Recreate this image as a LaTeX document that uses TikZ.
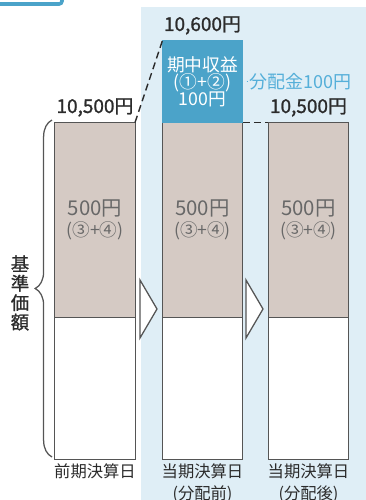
\documentclass[tikz,border=0pt]{standalone}
\usepackage{fontspec}
\setmainfont{Noto Sans CJK JP}
\newfontfamily\jpbold[FakeBold=1.2]{Noto Sans CJK JP}
\usetikzlibrary{positioning}
\usetikzlibrary{decorations.pathreplacing}
\definecolor{fundbg}{HTML}{DFEEF6}
\definecolor{gainblue}{HTML}{4BA3C9}
\definecolor{paidblue}{HTML}{55AFD9}
\definecolor{navbrown}{HTML}{D5CAC4}
\definecolor{colline}{HTML}{555555}
\definecolor{navtext}{HTML}{686868}
\definecolor{pricetext}{HTML}{2B2B2B}
\tikzset{
	navtop/.style={draw=colline, fill=navbrown, line width=0.7pt, minimum width=2cm, minimum height=4.875cm, outer sep=0pt, inner sep=0pt, align=center, text=navtext, font=\fontsize{14.5}{15}\selectfont},
	navbottom/.style={draw=colline, fill=white, line width=0.7pt, minimum width=2cm, minimum height=3.55cm, outer sep=0pt},
	gainbox/.style={draw=gainblue, fill=gainblue, minimum width=2cm, minimum height=2.05cm, outer sep=0pt, inner sep=0pt, align=center, text=white, font=\fontsize{12.6}{12.2}\selectfont},
	price/.style={inner sep=1pt, text=pricetext, font=\jpbold\fontsize{13.5}{14}\selectfont},
	day/.style={inner sep=1pt, align=center, text=pricetext, font=\fontsize{11.6}{15.5}\selectfont},
	dashline/.style={draw=pricetext, line width=1pt, dash pattern=on 5pt off 3pt},
	fwd/.style={draw=colline, fill=white, line width=0.9pt, line join=miter}
}
\begin{document}
\begin{tikzpicture}[x=0.025cm, y=-0.025cm]
	\useasboundingbox (0,0) rectangle (366,500);
	\pgfmathsetmacro{\ColA}{95}
	\pgfmathsetmacro{\ColB}{202.5}
	\pgfmathsetmacro{\ColC}{308.5}
	\pgfmathsetmacro{\TopMid}{220}
	% background
	\fill[fundbg] (141,7) rectangle (366,500);
	\draw[gainblue, line width=2.5pt, fill=white, rounded corners=2pt] (-10,-10) rectangle (62,4);
	% columns
	\node[navtop] (top1) at (\ColA,\TopMid) {500円\\{\fontsize{12.5}{13}\selectfont(③+④)}};
	\node[navbottom, below=0pt of top1] (low1) {};
	\node[navtop] (top2) at (\ColB,\TopMid) {500円\\{\fontsize{12.5}{13}\selectfont(③+④)}};
	\node[navbottom, below=0pt of top2] (low2) {};
	\node[navtop] (top3) at (\ColC,\TopMid) {500円\\{\fontsize{12.5}{13}\selectfont(③+④)}};
	\node[navbottom, below=0pt of top3] (low3) {};
	% income
	\node[gainbox, above=0pt of top2] (gain) {期中収益\\(①+②)\\100円};
	\node[right=4pt of gain, inner sep=1pt, text=paidblue, font=\fontsize{12.8}{14}\selectfont] (paid) {分配金100円};
	\draw[paidblue, line width=0.8pt, shorten <=3pt] (gain.east) -- (paid.west);
	% prices
	\node[price, above=3pt of top1] (p1) {10,500円};
	\node[price, above=3pt of gain] (p2) {10,600円};
	\node[price, above=3pt of top3] (p3) {10,500円};
	\draw[dashline] (top1.north east) -- (gain.north west);
	\draw[dashline] (top2.north east) -- (top3.north west);
	% days
	\node[day, below=2pt of low1] (d1) {前期決算日};
	\node[day, below=2pt of low2] (d2) {当期決算日\\(分配前)};
	\node[day, below=2pt of low3] (d3) {当期決算日\\(分配後)};
	% arrows
	\draw[fwd] (140,280) -- (157,309) -- (140,338) -- cycle;
	\draw[fwd] (246,280) -- (263,309) -- (246,338) -- cycle;
	% LEFT
	\draw[colline, line width=0.9pt, decorate, decoration={brace, amplitude=0.42cm}] (52,457) -- (52,120) coordinate[pos=0.5] (tip);
	\node[inner sep=0pt, align=center, text=pricetext, font=\jpbold\fontsize{13}{13.8}\selectfont] (navname) at (20,293) {基\\準\\価\\額};
\end{tikzpicture}
\end{document}
